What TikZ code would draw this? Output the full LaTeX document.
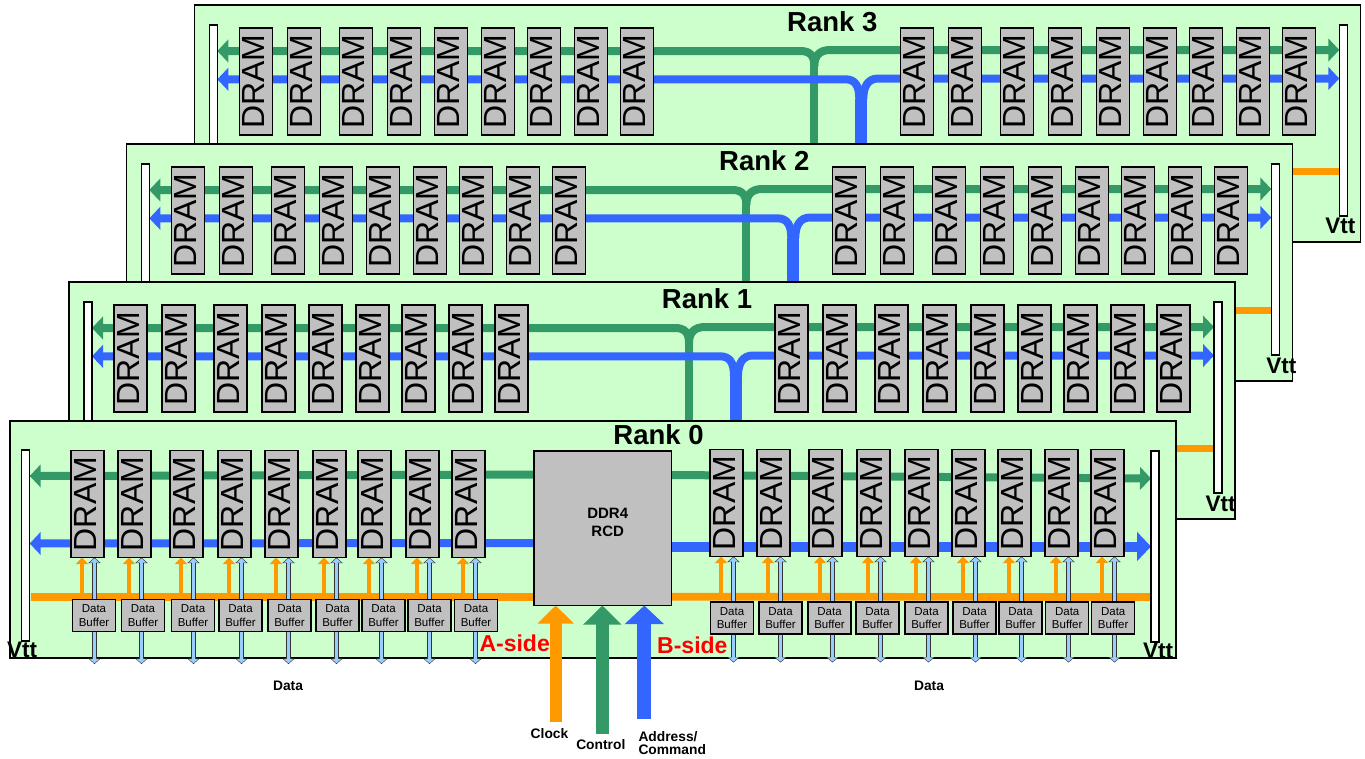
\documentclass[tikz,border=0pt]{standalone}
\usepackage{fontspec}
\setmainfont{Liberation Sans}
\usetikzlibrary{arrows.meta}
\definecolor{boardc}{HTML}{CCFFCC}
\definecolor{orangec}{HTML}{FF9900}
\definecolor{greenc}{HTML}{339966}
\definecolor{bluec}{HTML}{3366FF}
\definecolor{grayc}{HTML}{C0C0C0}
\definecolor{datac}{HTML}{99CCFF}
\pgfdeclarelayer{r3l}\pgfdeclarelayer{r3n}
\pgfdeclarelayer{r2l}\pgfdeclarelayer{r2n}
\pgfdeclarelayer{r1l}\pgfdeclarelayer{r1n}
\pgfdeclarelayer{r0l}\pgfdeclarelayer{r0n}
\pgfsetlayers{r3l,r3n,r2l,r2n,r1l,r1n,r0l,r0n,main}
\tikzset{
  board/.style={rectangle,draw=black,line width=1.3pt,fill=boardc,inner sep=0,outer sep=0,minimum width=1166pt,minimum height=237pt,anchor=north west},
  dram/.style={rectangle,rotate=90,draw=black,line width=1.1pt,fill=grayc,inner sep=0,outer sep=0,minimum width=107pt,minimum height=33pt,text height=23pt,text depth=6pt,font=\fontsize{32}{32}\selectfont},
  buffer/.style={rectangle,draw=black,line width=1.1pt,fill=grayc,inner sep=0,outer sep=0,minimum width=43pt,minimum height=32pt,align=center,anchor=north west,font=\fontsize{11.5}{13.7}\selectfont},
  vbar/.style={rectangle,draw=black,line width=1.1pt,fill=white,inner sep=0,outer sep=0,minimum width=8pt,minimum height=191pt,anchor=north west},
  chip/.style={rectangle,draw=black,line width=1.1pt,fill=grayc,inner sep=0,outer sep=0,minimum width=137.5pt,minimum height=154.5pt,anchor=north west},
  chiptext/.style={inner sep=0,align=center,font=\fontsize{15}{17.7}\selectfont\bfseries},
  ranktitle/.style={anchor=base,inner sep=0,font=\fontsize{27.5}{27.5}\selectfont\bfseries},
  vttlabel/.style={anchor=base,inner sep=0,font=\fontsize{22.5}{22.5}\selectfont\bfseries},
  sidelabel/.style={anchor=base west,inner sep=0,text=red,font=\fontsize{23}{23}\selectfont\bfseries},
  smalllabel/.style={inner sep=0,font=\fontsize{13.8}{13.4}\selectfont\bfseries},
  gbus/.style={draw=greenc,line width=8pt},
  bbus/.style={draw=bluec,line width=8pt},
  obus/.style={draw=orangec,line width=7.7pt},
  gtip/.style={-{Triangle[length=11pt,width=22.5pt]}},
  otick/.style={draw=orangec,line width=4.3pt,-{Triangle[length=6.5pt,width=12pt]}},
  dataout/.style={draw=black!80,line width=5pt,{Triangle[length=5.5pt,width=12pt]}-{Triangle[length=5.5pt,width=12pt]}},
  datain/.style={draw=datac,line width=3.4pt,shorten <=.8pt,shorten >=.8pt,{Triangle[length=4.4pt,width=9.8pt]}-{Triangle[length=4.4pt,width=9.8pt]}},
}
\newcommand{\rankgroup}[6]{%
\begin{scope}[shift={(#3,#4)}]
\begin{pgfonlayer}{#1n}
  \foreach \i/\x in {1/114,2/162,3/214,4/262,5/309,6/356,7/402,8/449,9/495}{
    \node[dram] (#1a\i) at (\x+16.5,358.5) {DRAM};}
  \foreach \i/\x in {1/775,2/823,3/875,4/923,5/971,6/1018,7/1064,8/1111,9/1157}{
    \node[dram] (#1c\i) at (\x+16.5,358.5) {DRAM};}
  \node[vbar] (#1lb) at (84,302) {};
  \node[vbar] (#1rb) at (1214,302) {};
  \node[ranktitle] (#1t) at (707,308) {Rank #2};
  \node[vttlabel] (#1v) at (#5,#6) {Vtt};
\end{pgfonlayer}
\begin{pgfonlayer}{#1l}
  \node[board] (#1b) at (69,282) {};
  \coordinate (#1gs) at (689,519);
  \coordinate (#1bs) at (736,519);
  \coordinate (#1oc) at (1150,448.5);
  \draw[gbus] (#1gs) -- (689,343);
  \draw[gbus,gtip] (689,343) .. controls (689,333) and (685,328) .. (675,328) -- (#1lb.east |- 0,328);
  \draw[gbus,gtip] (689,343) .. controls (689,333) and (694,327) .. (705,327) -- (#1rb.west |- 0,327);
  \draw[bbus,line width=12pt] (#1bs) -- (736,376);
  \draw[bbus,gtip] (734,376) .. controls (734,363) and (730,356.3) .. (720,356.3) -- (#1lb.east |- 0,356.3);
  \draw[bbus,gtip] (738,376) .. controls (738,363) and (743,355.5) .. (753,355.5) -- (#1rb.west |- 0,355.5);
  \draw[obus,line width=7pt] (#1oc) -- (#1rb.west |- #1oc);
\end{pgfonlayer}
\end{scope}}
\begin{document}
\begin{tikzpicture}[x=1pt,y=-1pt]
\useasboundingbox (0,0) rectangle (1365,758);
\rankgroup{r3}{3}{125.3}{-277}{1215}{510}
\rankgroup{r2}{2}{57.3}{-138}{1224}{511}
\rankgroup{r1}{1}{0}{0}{1220.5}{511}
% Rank 0
\begin{pgfonlayer}{r0n}
  \foreach \i/\x/\b in {1/71/72.5,2/118/121.5,3/170/171.5,4/218/219,5/265/268,6/313/316,7/358/362,8/406/408,9/452/454.5}{
    \node[dram] (r0a\i) at (\x+16.5,504) {DRAM};
    \node[buffer] (r0p\i) at (\b,599.5) {Data\\Buffer};}
  \foreach \i/\x/\b in {1/710/710.5,2/757/759,3/809/808,4/857/856,5/905/905,6/952/953,7/998/999,8/1045/1045.7,9/1091/1091.7}{
    \node[dram] (r0c\i) at (\x+16.5,503) {DRAM};
    \node[buffer] (r0q\i) at (\b,602) {Data\\Buffer};}
  \node[vbar] (r0lb) at (21.7,450) {};
  \node[vbar] (r0rb) at (1151,451) {};
  \node[chip] (rcd) at (534,451) {};
  \node[chiptext] (rcdt) at (607.7,522.7) {DDR4\\RCD};
\end{pgfonlayer}
\begin{pgfonlayer}{r0l}
  \node[board] (r0b) at (10,421) {};
  \coordinate (r0ge) at (534,474.5);
  \coordinate (r0be) at (534,543);
  \coordinate (r0oe) at (534,596.7);
  \coordinate (r0gf) at (671.5,475);
  \coordinate (r0bf) at (671.5,546.5);
  \coordinate (r0of) at (671.5,596.7);
  \coordinate (r0ol) at (31,596.7);
  \draw[gbus,gtip] (r0ge) -- (r0lb.east |- 0,476);
  \draw[bbus,gtip] (r0be) -- (r0lb.east |- 0,543.5);
  \draw[obus] (r0oe) -- (r0ol);
  \draw[gbus,gtip] (r0gf) -- (r0rb.west |- 0,478.5);
  \draw[bbus,line width=10pt,-{Triangle[length=14pt,width=28.5pt]}] (r0bf) -- (r0rb.west |- r0bf);
  \draw[obus] (r0of) -- (1152.5,597);
  \foreach \i/\x in {1/71,2/118,3/170,4/218,5/265,6/313,7/358,8/406,9/452}{
    \coordinate (r0k\i) at (\x+11,597);
    \coordinate (r0d\i) at (\x+23.5,664);
    \draw[otick] (r0k\i) -- (r0k\i |- r0a\i.west);
    \draw[dataout] (r0d\i) -- (r0d\i |- r0a\i.west);
    \draw[datain] (r0d\i) -- (r0d\i |- r0a\i.west);}
  \foreach \i/\x in {1/710,2/757,3/809,4/857,5/905,6/952,7/998,8/1045,9/1091}{
    \coordinate (r0l\i) at (\x+11,597);
    \coordinate (r0e\i) at (\x+23.5,662.5);
    \draw[otick] (r0l\i) -- (r0l\i |- r0c\i.west);
    \draw[dataout] (r0e\i) -- (r0e\i |- r0c\i.west);
    \draw[datain] (r0e\i) -- (r0e\i |- r0c\i.west);}
\end{pgfonlayer}
\node[ranktitle] (r0t) at (658.5,444) {Rank 0};
\node[vttlabel] (r0vl) at (22,657) {Vtt};
\node[vttlabel] (r0vr) at (1158,658) {Vtt};
% input arrows
\coordinate (clkin) at (555.7,722);
\coordinate (ctlin) at (602.3,734);
\coordinate (addrin) at (644.3,719.3);
\draw[draw=orangec,line width=12.3pt,-{Triangle[length=18pt,width=35.3pt]}] (clkin) -- (clkin |- rcd.south);
\draw[draw=greenc,line width=13pt,-{Triangle[length=19pt,width=37pt]}] (ctlin) -- (ctlin |- rcd.south);
\draw[draw=bluec,line width=13.7pt,-{Triangle[length=18.5pt,width=38pt]}] (addrin) -- (addrin |- rcd.south);
\node[sidelabel] (aside) at (479.3,651.7) {A-side};
\node[sidelabel] (bside) at (657,653.3) {B-side};
\node[smalllabel,anchor=base] (clk) at (549.5,738.3) {Clock};
\node[smalllabel,anchor=base] (ctl) at (600.8,749.3) {Control};
\node[smalllabel,anchor=west,align=left] (addr) at (638.3,743) {Address/\\Command};
\node[smalllabel,anchor=base] (dl) at (288,690.7) {Data};
\node[smalllabel,anchor=base] (dr) at (929,690) {Data};
\end{tikzpicture}
\end{document}
